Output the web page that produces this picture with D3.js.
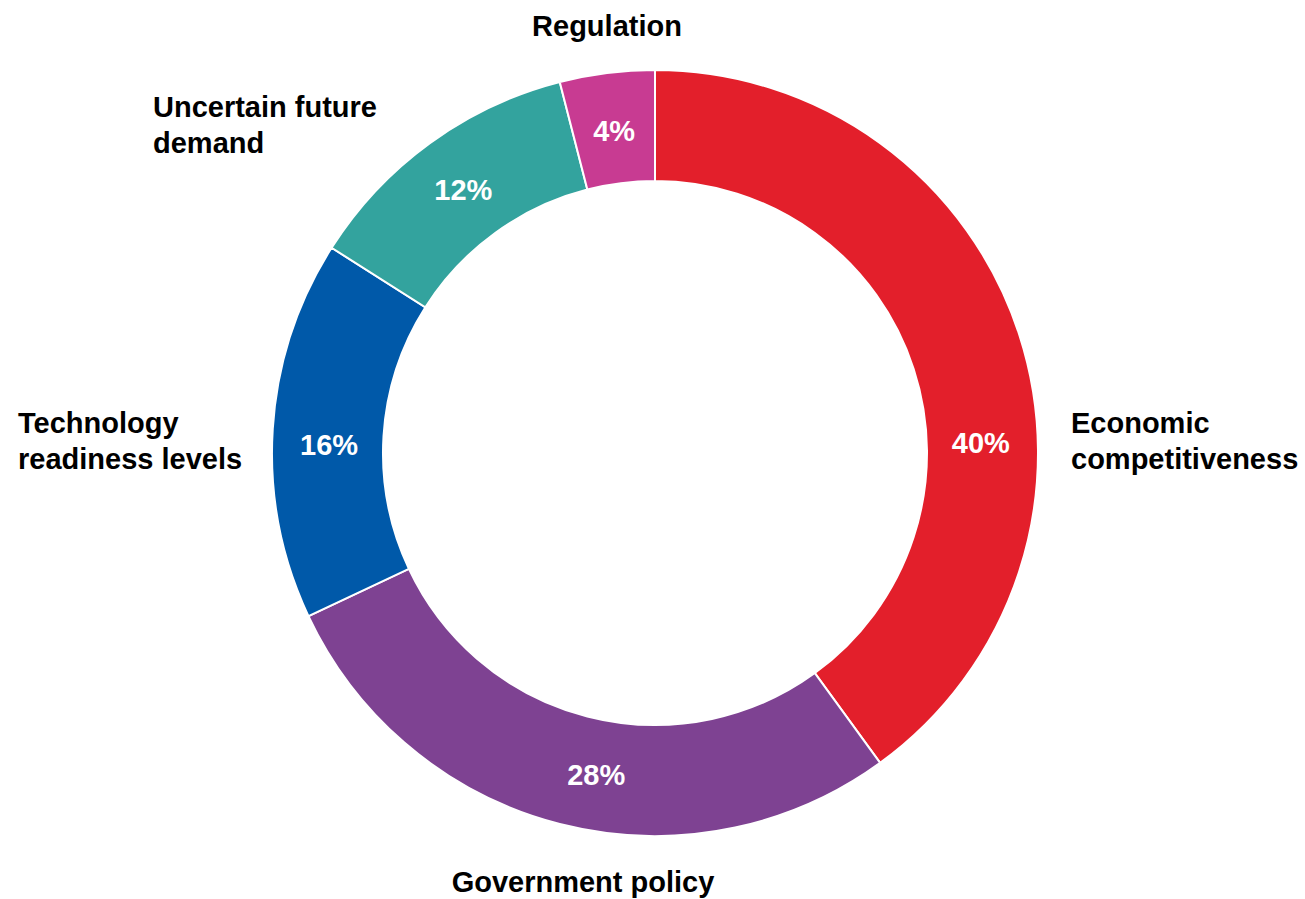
<!DOCTYPE html>
<html>
<head>
<meta charset="utf-8">
<script src="https://cdn.jsdelivr.net/npm/d3@7/dist/d3.min.js"></script>
<style>
  html, body { margin: 0; padding: 0; background: #ffffff; }
  svg { display: block; }
  text { font-family: "Liberation Sans", Arial, sans-serif; font-weight: bold; }
</style>
</head>
<body>
<script>
// Share of responses by barrier category, clockwise from 12 o'clock
const categories = ["Economic competitiveness", "Government policy", "Technology readiness levels", "Uncertain future demand", "Regulation"];
const shares = [40, 28, 16, 12, 4];
const colors = ["#E31F2B", "#7E4292", "#0059A9", "#33A39E", "#C83B92"];

const width = 1305, height = 899;
const cx = 655, cy = 453;
const outerR = 383, innerR = 272;
const fontSize = 29;

// Category label placement (text anchor point, anchor side, line breaks)
const catLabels = {
  "Economic competitiveness":   { x: 1071, y: 433, anchor: "start",  lines: ["Economic", "competitiveness"] },
  "Government policy":          { x: 583,  y: 892, anchor: "middle", lines: ["Government policy"] },
  "Technology readiness levels":{ x: 18,   y: 433, anchor: "start",  lines: ["Technology", "readiness levels"] },
  "Uncertain future demand":    { x: 153,  y: 117, anchor: "start",  lines: ["Uncertain future", "demand"] },
  "Regulation":                 { x: 607,  y: 36,  anchor: "middle", lines: ["Regulation"] }
};
// Rotation (degrees, clockwise) applied to a percentage label away from its slice's mid-angle
const pctAngleShift = {
  "Economic competitiveness": 16,
  "Government policy": -4,
  "Technology readiness levels": -2
};
const pctR = 326;

const svg = d3.select("body").append("svg")
  .attr("width", width).attr("height", height);

const g = svg.append("g").attr("transform", `translate(${cx},${cy})`);

const data = categories.map((c, i) => ({ name: c, value: shares[i], color: colors[i] }));

const pie = d3.pie().value(d => d.value).sort(null);
const arc = d3.arc().innerRadius(innerR).outerRadius(outerR);
const arcs = pie(data);

g.selectAll("path.slice")
  .data(arcs)
  .join("path")
  .attr("class", "slice")
  .attr("d", arc)
  .attr("fill", d => d.data.color)
  .attr("stroke", "#ffffff")
  .attr("stroke-width", 2);

// Percentage labels inside the ring
const labelAngle = d => (d.startAngle + d.endAngle) / 2 + ((pctAngleShift[d.data.name] || 0) * Math.PI / 180);
g.selectAll("text.pct")
  .data(arcs)
  .join("text")
  .attr("class", "pct")
  .attr("text-anchor", "middle")
  .attr("dominant-baseline", "central")
  .attr("fill", "#ffffff")
  .attr("font-size", fontSize)
  .attr("x", d => pctR * Math.sin(labelAngle(d)))
  .attr("y", d => -pctR * Math.cos(labelAngle(d)) + 1)
  .text(d => d.data.value + "%");

// Category labels around the ring
const lineH = 36;
svg.selectAll("text.cat")
  .data(data)
  .join("text")
  .attr("class", "cat")
  .attr("fill", "#000000")
  .attr("font-size", fontSize)
  .attr("text-anchor", d => catLabels[d.name].anchor)
  .each(function(d) {
    const L = catLabels[d.name];
    d3.select(this).selectAll("tspan")
      .data(L.lines)
      .join("tspan")
      .attr("x", L.x)
      .attr("y", (t, i) => L.y + i * lineH)
      .text(t => t);
  });
</script>
</body>
</html>
